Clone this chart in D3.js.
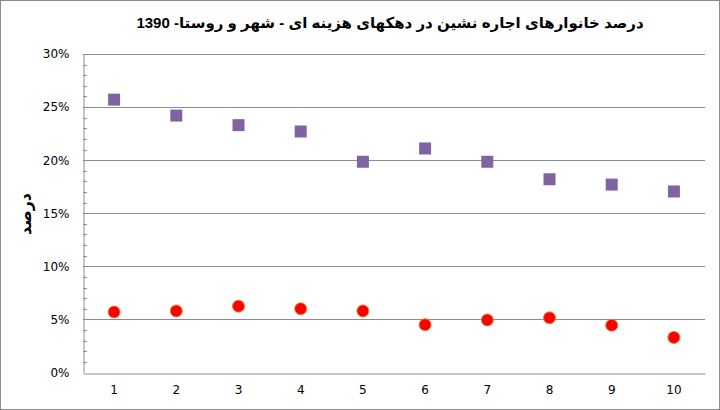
<!DOCTYPE html>
<html><head><meta charset="utf-8">
<script src="https://cdn.jsdelivr.net/npm/d3@7"></script>
<style>body{margin:0;background:#fff}svg{display:block}</style>
</head><body>
<svg id="c" width="720" height="410"></svg>
<script>
const categories = ["1","2","3","4","5","6","7","8","9","10"];
const seriesSquares = [25.7, 24.2, 23.3, 22.7, 19.85, 21.1, 19.85, 18.2, 17.7, 17.05];
const seriesCircles = [5.7, 5.8, 6.25, 6.0, 5.8, 4.5, 4.95, 5.15, 4.45, 3.3];
const yTicks = [0, 5, 10, 15, 20, 25, 30];
const yMinorTicks = d3.range(0, 31, 1);
const titleText = "درصد خانوارهای اجاره نشین در دهکهای هزینه ای - شهر و روستا- 1390";
const yTitle = "درصد";

const svg = d3.select("#c");
const L = 83, R = 705, T = 54, B = 372.5;
svg.append("rect").attr("x",0.5).attr("y",0.5).attr("width",719).attr("height",409)
  .attr("fill","#fff").attr("stroke","#8c8c8c").attr("stroke-width",1);

const x = d3.scaleBand().domain(categories).range([L, R]);
const y = d3.scaleLinear().domain([0, 30]).range([B, T]);

// gridlines
svg.append("g").selectAll("line").data(yTicks.filter(d=>d>0)).join("line")
  .attr("x1", L).attr("x2", R).attr("y1", d=>Math.round(y(d))+0.5).attr("y2", d=>Math.round(y(d))+0.5)
  .attr("stroke","#8c8c8c").attr("stroke-width",1);

// minor ticks
svg.append("g").selectAll("line").data(yMinorTicks.filter(d=>d%5!==0)).join("line")
  .attr("x1", L).attr("x2", L+4).attr("y1", d=>Math.round(y(d))+0.5).attr("y2", d=>Math.round(y(d))+0.5)
  .attr("stroke","#8c8c8c");

// y axis
const yAxis = d3.axisLeft(y).tickValues(yTicks).tickFormat(d=>d+"%").tickSize(0).tickPadding(14);
const gy = svg.append("g").attr("transform",`translate(${L+0.5},0)`).call(yAxis);
gy.select(".domain").attr("stroke","#8c8c8c");
gy.selectAll("text").attr("font-family","DejaVu Sans, sans-serif").attr("font-size",12).attr("fill","#000");

// x axis
const xAxis = d3.axisBottom(x).tickSize(0).tickPadding(12);
const gx = svg.append("g").attr("transform",`translate(0,${Math.round(B)+0.5})`).call(xAxis);
gx.select(".domain").attr("stroke","#8c8c8c");
gx.selectAll("text").attr("font-family","DejaVu Sans, sans-serif").attr("font-size",12).attr("fill","#000");

// squares
const s = 12;
svg.append("g").selectAll("rect").data(seriesSquares).join("rect")
  .attr("x",(d,i)=>x(categories[i])+x.bandwidth()/2-s/2)
  .attr("y",d=>y(d)-s/2).attr("width",s).attr("height",s)
  .attr("fill","#8064A2");

// circles
svg.append("g").selectAll("circle").data(seriesCircles).join("circle")
  .attr("cx",(d,i)=>x(categories[i])+x.bandwidth()/2)
  .attr("cy",d=>y(d)).attr("r",6)
  .attr("fill","#FF0000").attr("stroke","#E4823A").attr("stroke-width",1);

// title
svg.append("text").attr("x",390).attr("y",28).attr("text-anchor","middle")
  .attr("direction","rtl")
  .attr("font-family","Liberation Sans, DejaVu Sans, sans-serif").attr("font-weight","bold")
  .attr("font-size",15).attr("fill","#000").text(titleText);

// y title
svg.append("text").attr("transform","translate(31,214) rotate(-90)")
  .attr("text-anchor","middle").attr("direction","rtl")
  .attr("font-family","DejaVu Sans, sans-serif").attr("font-weight","bold")
  .attr("font-size",16).attr("fill","#000").text(yTitle);
</script>
</body></html>
